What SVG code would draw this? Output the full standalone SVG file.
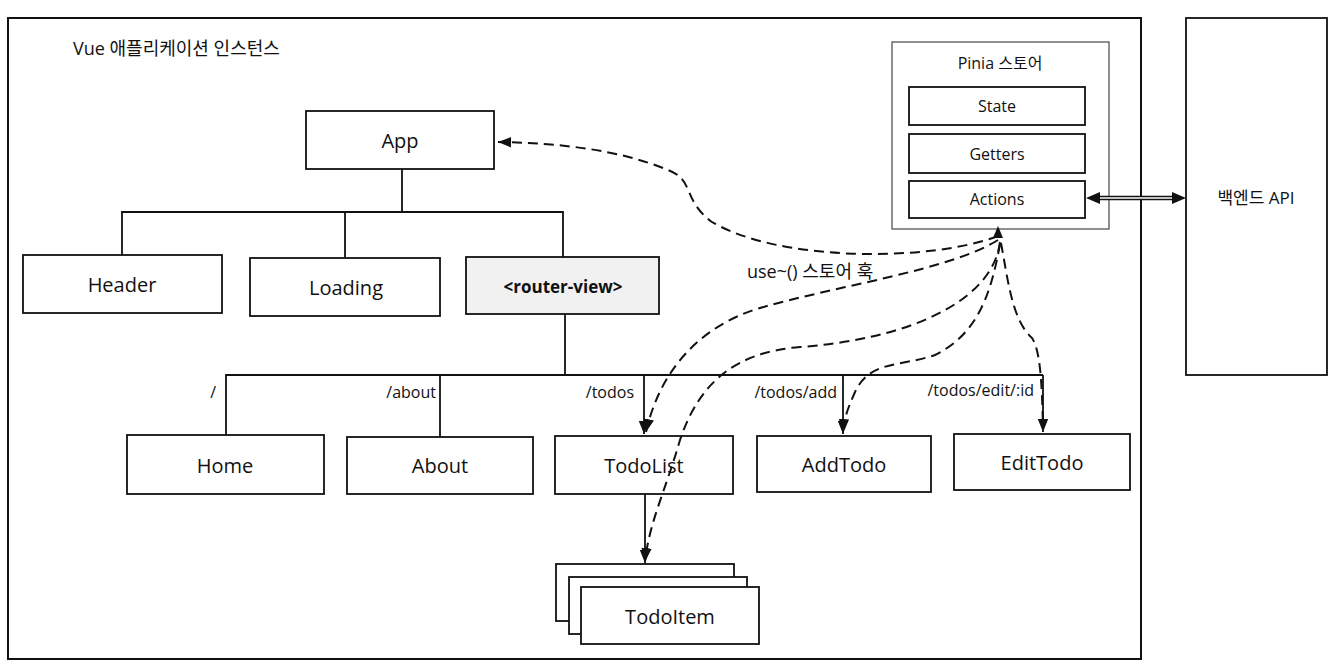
<svg xmlns="http://www.w3.org/2000/svg" width="1335" height="666" viewBox="0 0 1335 666">
<defs>
<style>
.box{fill:#fff;stroke:#111;stroke-width:1.8}
.gbox{fill:#f1f1f1;stroke:#111;stroke-width:1.8}
.thin{fill:#fff;stroke:#555;stroke-width:1.3}
.t{font-family:"Open Sans","Noto Sans CJK KR",sans-serif;fill:#111;text-anchor:middle;dominant-baseline:central}
.lbl{font-family:"Open Sans","Noto Sans CJK KR",sans-serif;fill:#111;font-size:16px}
.ln{fill:none;stroke:#111;stroke-width:1.8}
.dash{fill:none;stroke:#111;stroke-width:2;stroke-dasharray:10 6}
</style>
<marker id="big" viewBox="0 0 10 10" refX="10" refY="5" markerWidth="13" markerHeight="13" markerUnits="userSpaceOnUse" orient="auto">
<path d="M0,1 L10,5 L0,9 z" fill="#111"/>
</marker>
</defs>
<rect width="1335" height="666" fill="#fff"/>

<g id="frame">
<rect x="8" y="18" width="1133" height="641" fill="none" stroke="#111" stroke-width="2"/>
<text x="73" y="48" class="lbl" style="font-size:18px;dominant-baseline:central">Vue 애플리케이션 인스턴스</text>
</g>

<g id="app"><rect class="box" x="306" y="111" width="188" height="58"/><text class="t" x="400" y="140" font-size="20">App</text></g>
<g id="header"><rect class="box" x="23" y="255" width="199" height="58"/><text class="t" x="122" y="284" font-size="20">Header</text></g>
<g id="loading"><rect class="box" x="250" y="258" width="190" height="58"/><text class="t" x="346" y="287" font-size="20">Loading</text></g>
<g id="router-view"><rect class="gbox" x="466" y="257" width="193" height="57"/><text class="t" x="563" y="286" font-size="17" font-weight="bold">&lt;router-view&gt;</text></g>

<g id="home"><rect class="box" x="127" y="435" width="197" height="59"/><text class="t" x="225" y="465" font-size="20">Home</text></g>
<g id="about"><rect class="box" x="347" y="437" width="186" height="57"/><text class="t" x="440" y="465" font-size="20">About</text></g>
<g id="todolist"><rect class="box" x="555" y="436" width="178" height="58"/><text class="t" x="644" y="465" font-size="20">TodoList</text></g>
<g id="addtodo"><rect class="box" x="757" y="436" width="174" height="56"/><text class="t" x="844" y="464" font-size="20">AddTodo</text></g>
<g id="edittodo"><rect class="box" x="954" y="434" width="176" height="56"/><text class="t" x="1042" y="462" font-size="20">EditTodo</text></g>

<g id="todoitem">
<rect class="box" x="556" y="564" width="178" height="57"/>
<rect class="box" x="569" y="577" width="178" height="57"/>
<rect class="box" x="581" y="587" width="178" height="57"/>
<text class="t" x="670" y="616" font-size="20">TodoItem</text>
</g>

<g id="pinia">
<rect class="thin" x="892" y="42" width="217" height="187"/>
<text class="t" x="1000" y="63" font-size="16">Pinia 스토어</text>
<rect class="box" x="909" y="87" width="176" height="38"/><text class="t" x="997" y="106" font-size="16">State</text>
<rect class="box" x="909" y="134" width="176" height="39"/><text class="t" x="997" y="154" font-size="16">Getters</text>
<rect class="box" x="909" y="181" width="176" height="37"/><text class="t" x="997" y="199" font-size="16">Actions</text>
</g>

<g id="backend">
<rect class="box" x="1186" y="18" width="141" height="357"/>
<text class="t" x="1256" y="197" font-size="17">백엔드 API</text>
</g>

<g id="connectors">
<path class="ln" d="M402 169 V212 M122 255 V212 H563 V257 M345 212 V258"/>
<path class="ln" d="M565 314 V375 M226 435 V375 H1043 M440 375 V437"/>
<path class="ln" d="M644 375 V434" marker-end="url(#big)"/>
<path class="ln" d="M843 375 V434" marker-end="url(#big)"/>
<path class="ln" d="M1043 375 V432" marker-end="url(#big)"/>
<path class="ln" d="M645 494 V563" marker-end="url(#big)"/>
<text class="lbl" x="216" y="398" text-anchor="end">/</text>
<text class="lbl" x="436" y="398" text-anchor="end">/about</text>
<text class="lbl" x="634" y="398" text-anchor="end">/todos</text>
<text class="lbl" x="837" y="398" text-anchor="end">/todos/add</text>
<text class="lbl" x="1034" y="396" text-anchor="end">/todos/edit/:id</text>

<path class="dash" d="M998 236 C930 262 780 262 712 222 C682 200 695 180 668 170 C620 150 560 143 498 142" marker-end="url(#big)"/>
<path class="dash" d="M998 240 C950 270 840 285 760 308 C700 326 660 370 646 432" marker-end="url(#big)"/>
<path class="dash" d="M1000 242 C992 305 900 340 800 347 C738 352 700 380 680 440 C665 492 650 520 645 561" marker-end="url(#big)"/>
<path class="dash" d="M1000 244 C990 300 975 335 935 355 C900 367 870 360 855 392 C848 408 844 418 843 432" marker-end="url(#big)"/>
<path class="dash" d="M1001 243 C1008 280 1012 320 1032 338 C1040 350 1042 380 1043 430"/>
<path d="M993 238 L998 226 L1003 238 z" fill="#111"/>
<text class="lbl" x="747" y="278" style="font-size:18px">use~()  스토어 훅</text>

<line x1="1098" y1="198" x2="1173" y2="198" stroke="#111" stroke-width="4.5"/>
<line x1="1098" y1="198" x2="1173" y2="198" stroke="#fff" stroke-width="1.4"/>
<path d="M1086 198 L1100 192 L1100 204 z" fill="#111"/>
<path d="M1186 198 L1172 192 L1172 204 z" fill="#111"/>
</g>
</svg>
